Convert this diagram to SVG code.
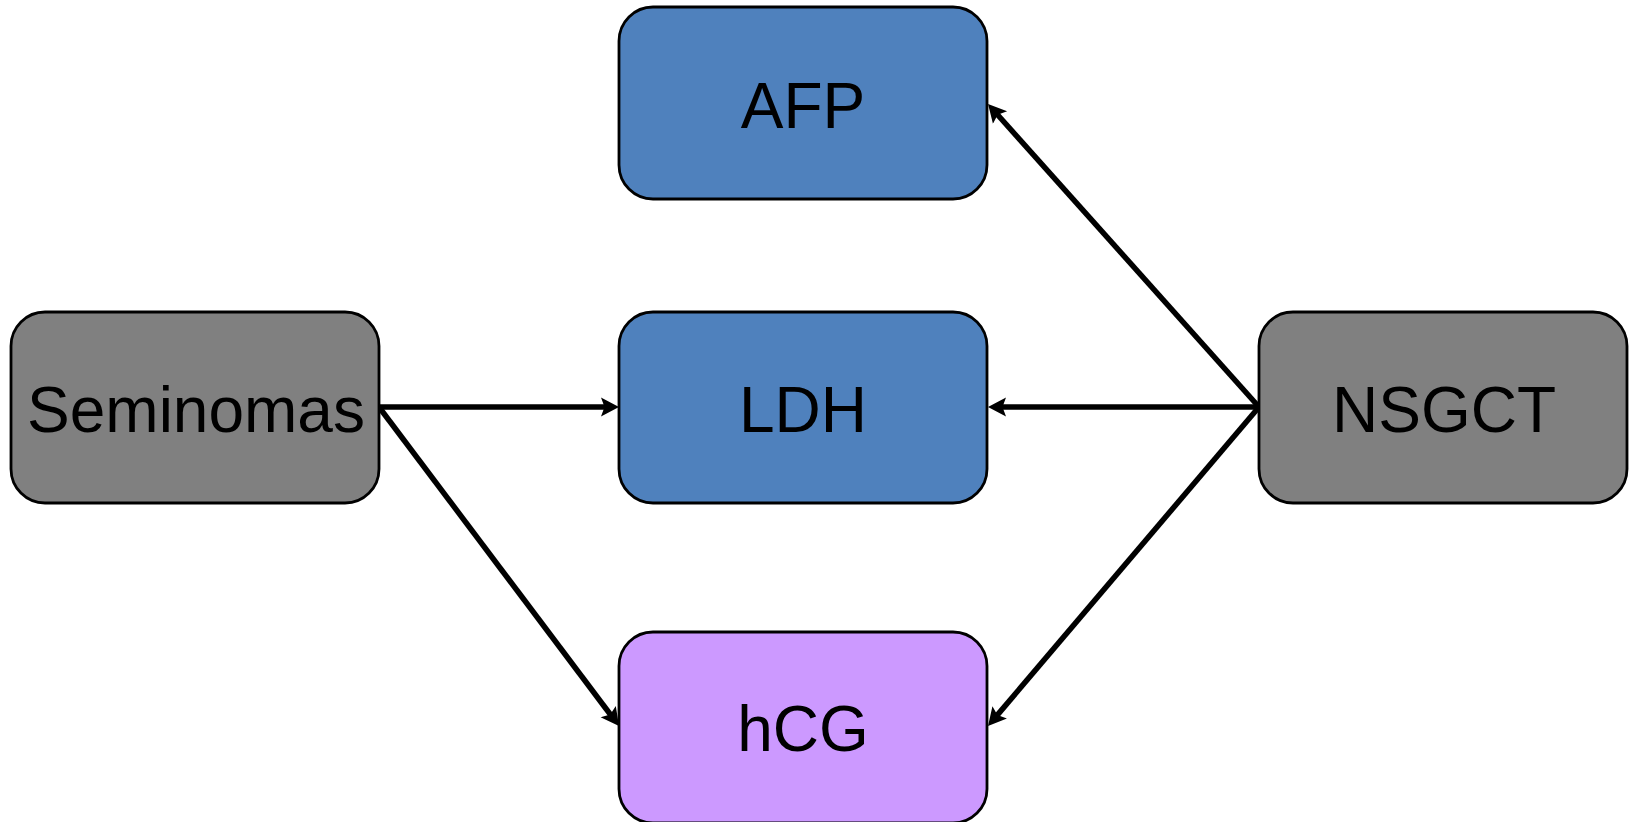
<svg xmlns="http://www.w3.org/2000/svg" width="1629" height="822" viewBox="0 0 1629 822">
  <style>
    .box { stroke: #000000; stroke-width: 2.8; }
    .blue { fill: #4F81BD; }
    .gray { fill: #808080; }
    .purple { fill: #CC99FF; }
    .lbl { font-family: "Liberation Sans", Arial, sans-serif; font-size: 64px; fill: #000000; text-anchor: middle; }
    .edge { stroke: #000000; stroke-width: 5.5; fill: none; }
  </style>
  <defs>
    <marker id="arrow" markerUnits="userSpaceOnUse" markerWidth="22" markerHeight="22" viewBox="0 -11 22 22" refX="8" refY="0" orient="auto">
      <path d="M0,-9.5 L18,0 L0,9.5 L3.5,0 Z" fill="#000000"/>
    </marker>
  </defs>
  <rect width="1629" height="822" fill="#FFFFFF"/>
  <g id="connectors">
    <line class="edge" x1="379" y1="407" x2="609" y2="407" marker-end="url(#arrow)"/>
    <line class="edge" x1="379" y1="407" x2="613" y2="718" marker-end="url(#arrow)"/>
    <line class="edge" x1="1259" y1="407" x2="994.7" y2="111.5" marker-end="url(#arrow)"/>
    <line class="edge" x1="1259" y1="407" x2="998" y2="407" marker-end="url(#arrow)"/>
    <line class="edge" x1="1259" y1="407" x2="994.5" y2="718.4" marker-end="url(#arrow)"/>
  </g>
  <g id="node-afp">
    <rect class="box blue" x="619" y="7" width="368" height="192" rx="34" ry="34"/>
    <text class="lbl" x="803" y="128">AFP</text>
  </g>
  <g id="node-ldh">
    <rect class="box blue" x="619" y="312" width="368" height="191" rx="34" ry="34"/>
    <text class="lbl" x="803" y="432">LDH</text>
  </g>
  <g id="node-hcg">
    <rect class="box purple" x="619" y="632" width="368" height="191" rx="34" ry="34"/>
    <text class="lbl" x="803" y="751">hCG</text>
  </g>
  <g id="node-seminomas">
    <rect class="box gray" x="11" y="312" width="368" height="191" rx="34" ry="34"/>
    <text class="lbl" x="196" y="432">Seminomas</text>
  </g>
  <g id="node-nsgct">
    <rect class="box gray" x="1259" y="312" width="368" height="191" rx="34" ry="34"/>
    <text class="lbl" x="1444" y="432">NSGCT</text>
  </g>
</svg>
